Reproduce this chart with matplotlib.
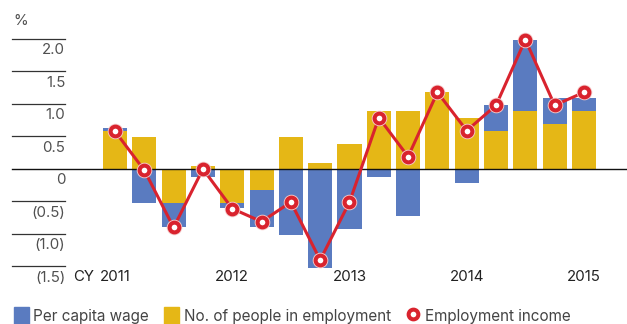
import matplotlib.pyplot as plt
from matplotlib.patches import Patch
from matplotlib.lines import Line2D

# quarterly change, CY 2011 Q1 .. CY 2015 Q1
per_capita_wage = [0.05, -0.52, -0.38, -0.12, -0.08, -0.58, -1.01, -1.52, -0.92,
                   -0.12, -0.72, 0.0, -0.21, 0.40, 1.09, 0.40, 0.20]
people_employed = [0.58, 0.49, -0.52, 0.05, -0.52, -0.32, 0.49, 0.09, 0.385,
                   0.89, 0.89, 1.18, 0.785, 0.585, 0.89, 0.69, 0.89]
employment_income = [0.58, -0.02, -0.90, 0.0, -0.61, -0.81, -0.51, -1.40, -0.51,
                     0.79, 0.19, 1.18, 0.59, 0.98, 1.99, 0.98, 1.18]
year_labels = ["2011", "2012", "2013", "2014", "2015"]
year_pos = [0, 4, 8, 12, 16]
y_ticks = [2.0, 1.5, 1.0, 0.5, 0.0, -0.5, -1.0, -1.5]
y_tick_labels = ["2.0", "1.5", "1.0", "0.5", "0", "(0.5)", "(1.0)", "(1.5)"]

BLUE = "#5a7bc0"
YELLOW = "#e5b716"
RED = "#d9232e"
FONT = "Inter"

plt.rcParams["font.family"] = [FONT, "DejaVu Sans"]

fig = plt.figure(figsize=(6.27, 3.24), dpi=100)
ax = fig.add_axes([0, 0, 1, 1])
ax.set_xlim(-3.924, 17.468)
ax.set_ylim(-2.385, 2.6)
ax.axis("off")

x = list(range(len(people_employed)))
width = 0.82

# yellow sits on zero; blue stacks on it when the sign agrees
wage_base = [e if (w * e > 0) else 0 for w, e in zip(per_capita_wage, people_employed)]
ax.bar(x, people_employed, width, color=YELLOW, zorder=2)
ax.bar(x, per_capita_wage, width, bottom=wage_base, color=BLUE, zorder=2)

yt = ax.get_yaxis_transform()
for v, lab in zip(y_ticks, y_tick_labels):
    if v == 0:
        ax.plot([0.019, 1.0], [0, 0], transform=yt, color="#111111", lw=1.0, zorder=3)
    else:
        ax.plot([0.019, 0.104], [v, v], transform=yt, color="#333333", lw=0.9, zorder=3)
    ax.text(0.104, v - 0.175, lab, transform=yt, ha="right", va="center",
            fontsize=10.8, color="#505050")

ax.text(0.021, 2.28, "%", transform=yt, ha="left", va="center",
        fontsize=10.8, color="#505050")

for p, lab in zip(year_pos, year_labels):
    ax.text(p, -1.66, lab, ha="center", va="center", fontsize=10.8, color="#222222")
ax.text(0.117, -1.66, "CY", transform=yt, ha="left", va="center",
        fontsize=10.8, color="#222222")

ax.plot(x, employment_income, color=RED, lw=2.2, zorder=4)
ax.plot(x, employment_income, ls="none", marker="o", ms=11.2, color="#f4cccc",
        markeredgewidth=0, zorder=5)
ax.plot(x, employment_income, ls="none", marker="o", ms=7.0, markerfacecolor="white",
        markeredgecolor=RED, markeredgewidth=2.9, zorder=6)

handles = [
    Patch(color=BLUE, label="Per capita wage"),
    Patch(color=YELLOW, label="No. of people in employment"),
    Line2D([], [], ls="none", marker="o", ms=7.0, markerfacecolor="white",
           markeredgecolor=RED, markeredgewidth=2.9, label="Employment income"),
]
ax.legend(handles=handles, loc="lower left", bbox_to_anchor=(0.012, -0.02), ncol=3,
          frameon=False, fontsize=11, handlelength=1.0, handleheight=1.4,
          handletextpad=0.3, columnspacing=0.95, borderaxespad=0,
          labelcolor="#444444")

fig.savefig("out.png", dpi=100)
